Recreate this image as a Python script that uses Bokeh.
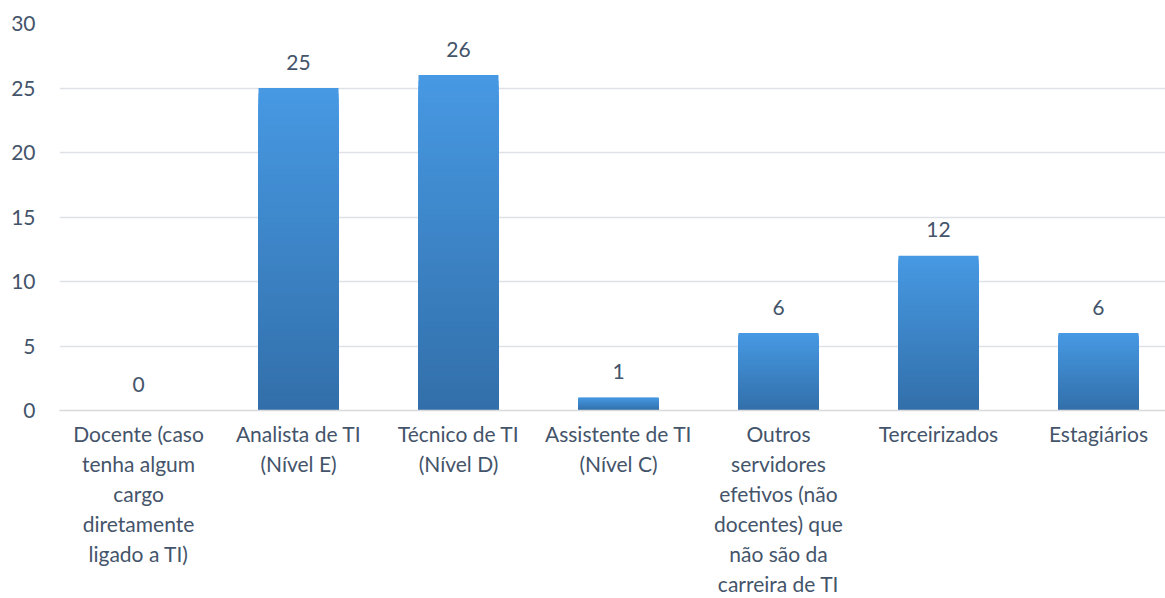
from bokeh.plotting import figure
from bokeh.models import Range1d, FixedTicker, ColumnDataSource
from bokeh.core.properties import value
from bokeh.embed import file_html
from bokeh.resources import INLINE

categories = [
    "Docente (caso\ntenha algum\ncargo\ndiretamente\nligado a TI)",
    "Analista de TI\n(Nível E)",
    "Técnico de TI\n(Nível D)",
    "Assistente de TI\n(Nível C)",
    "Outros\nservidores\nefetivos (não\ndocentes) que\nnão são da\ncarreira de TI",
    "Terceirizados",
    "Estagiários",
]
values = [0, 25, 26, 1, 6, 12, 6]
y_ticks = [0, 5, 10, 15, 20, 25, 30]

FONT = "Lato"
TXT = "#44546A"
TOP = (0x47, 0x99, 0xE3)
BOT = (0x32, 0x6F, 0xAA)

xs = list(range(len(categories)))

p = figure(width=1165, height=598, output_backend="svg", toolbar_location=None,
           x_range=Range1d(-0.494, 6.419), y_range=Range1d(0, 30))
p.min_border_left = 59
p.min_border_right = 0
p.min_border_top = 23
p.min_border_bottom = 188
p.outline_line_color = None
p.background_fill_color = "white"
p.border_fill_color = "white"

# gradient bars: overlapping bars, each shorter one drawn on top, heights from the values
N = 60
for j in range(N - 1, -1, -1):
    t = (j + 0.5) / N
    c = tuple(int(round(BOT[i] + (TOP[i] - BOT[i]) * t)) for i in range(3))
    col = "#%02x%02x%02x" % c
    src = ColumnDataSource(dict(
        x=xs,
        top=[v * (j + 1) / N for v in values],
    ))
    p.vbar(x="x", bottom=0, top="top", width=0.5, source=src,
           fill_color=col, line_color=None)

# data labels
lab = ColumnDataSource(dict(x=xs, y=values, t=[str(v) for v in values]))
p.text(x="x", y="y", text="t", source=lab, text_align="center",
       text_baseline="alphabetic", y_offset=-26, text_color=TXT,
       text_font=value(FONT), text_font_size="21px")

# axes
p.xaxis.ticker = FixedTicker(ticks=xs)
p.xaxis.major_label_overrides = {i: c for i, c in enumerate(categories)}
p.xaxis.major_label_text_font = FONT
p.xaxis.major_label_text_font_size = "21px"
p.xaxis.major_label_text_color = TXT
p.xaxis.major_label_standoff = 4
p.xaxis.major_tick_line_color = None
p.xaxis.minor_tick_line_color = None
p.xaxis.axis_line_color = "#D9D9D9"
p.xaxis.axis_line_width = 1.5

p.yaxis.ticker = FixedTicker(ticks=y_ticks)
p.yaxis.major_label_text_font = FONT
p.yaxis.major_label_text_font_size = "21px"
p.yaxis.major_label_text_color = TXT
p.yaxis.major_label_standoff = 18
p.yaxis.major_tick_line_color = None
p.yaxis.minor_tick_line_color = None
p.yaxis.axis_line_color = None

p.xgrid.grid_line_color = None
p.ygrid.ticker = FixedTicker(ticks=y_ticks)
p.ygrid.grid_line_color = "#DEE2E6"
p.ygrid.grid_line_width = 1.5

open("out.html", "w").write(file_html(p, INLINE))
